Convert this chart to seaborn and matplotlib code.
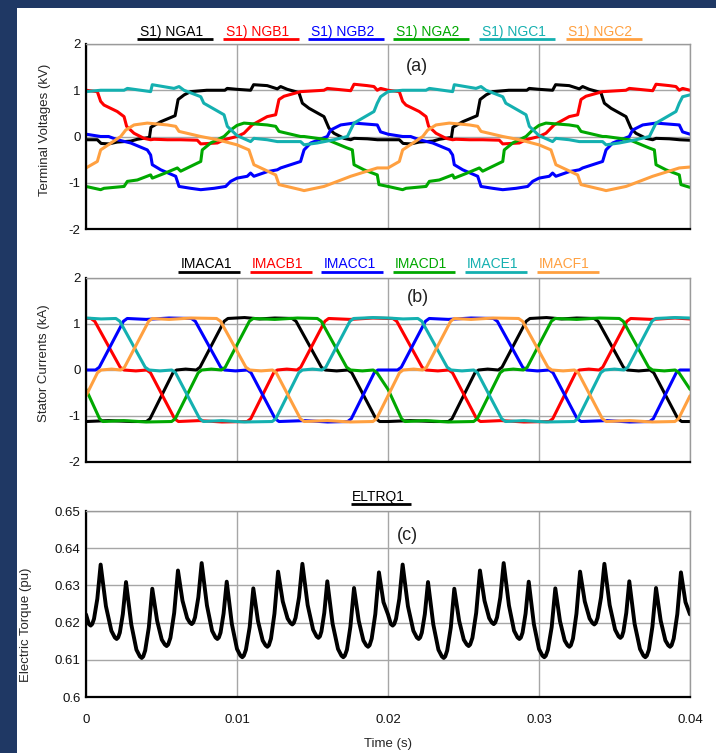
import matplotlib
matplotlib.use("Agg")
import matplotlib.pyplot as plt
from matplotlib.lines import Line2D
from matplotlib.patches import Rectangle
import pandas as pd
import seaborn as sns

sns.set_style("white")
plt.rcParams['font.family'] = ['Liberation Sans', 'DejaVu Sans']
plt.rcParams['axes.unicode_minus'] = False

# ---------------- data (time in ms) ----------------
volt_names = ["S1) NGA1", "S1) NGB1", "S1) NGB2", "S1) NGA2", "S1) NGC1", "S1) NGC2"]
curr_names = ["IMACA1", "IMACB1", "IMACC1", "IMACD1", "IMACE1", "IMACF1"]
torque_name = "ELTRQ1"
colors = ["#000000", "#FF0000", "#0000FF", "#00A800", "#14B0B0", "#FFA040"]

nga1 = [(0,-0.07),(0.75,-0.07),(1.0,-0.15),(1.5,-0.16),(2.07,-0.12),(2.96,-0.1),(3.4,-0.06),(4.2,-0.02),(4.3,0.2),(4.95,0.32),(5.9,0.45),(6.1,0.8),(6.5,0.9),(6.93,0.97),(8.0,1.0),(9.2,1.0),(9.35,1.04),(10.0,1.02),(10.9,1.0),(11.1,1.12),(12.0,1.1),(12.67,1.03),(12.89,1.08),(13.33,1.02),(14.1,0.95),(14.33,0.72),(14.77,0.61),(15.76,0.43),(16.09,0.18),(16.42,0.07),(17.09,-0.04),(17.53,-0.07),(17.75,-0.04),(18.63,-0.05),(19.3,-0.07),
        (20.0,-0.07),(20.75,-0.07),(21.0,-0.15),(21.5,-0.16),(22.07,-0.12),(22.96,-0.1),(23.4,-0.06),(24.2,-0.02),(24.3,0.2),(24.95,0.32),(25.9,0.45),(26.1,0.8),(26.5,0.9),(26.93,0.97),(28.0,1.0),(29.2,1.0),(29.35,1.04),(30.0,1.02),(30.9,1.0),(31.1,1.12),(32.0,1.1),(32.67,1.03),(32.89,1.08),(33.33,1.02),(34.1,0.95),(34.33,0.72),(34.77,0.61),(35.76,0.43),(36.09,0.18),(36.42,0.07),(37.09,-0.04),(37.53,-0.07),(37.75,-0.04),(38.63,-0.05),(39.3,-0.07),(40.0,-0.08)]
ngb1 = [(0,1.0),(0.75,0.97),(0.97,0.76),(1.19,0.68),(2.07,0.54),(2.52,0.43),(2.69,0.22),(3.18,0.07),(3.84,-0.04),(4.28,-0.07),(4.5,-0.06),(5.39,-0.07),(6.27,-0.07),(7.37,-0.08),(7.6,-0.16),(8.7,-0.14),(9.14,-0.07),(10.0,0.0),(10.46,0.07),(11.0,0.25),(12.0,0.43),(12.56,0.47),(12.78,0.8),(13.11,0.87),(14.21,0.97),(15.76,1.0),(15.98,1.04),(17.53,0.99),(17.75,1.13),(18.63,1.1),(19.07,1.08),(19.29,1.0),(19.51,1.04),
        (20.0,1.0),(20.75,0.97),(20.97,0.76),(21.19,0.68),(22.07,0.54),(22.52,0.43),(22.69,0.22),(23.18,0.07),(23.84,-0.04),(24.28,-0.07),(24.5,-0.06),(25.39,-0.07),(26.27,-0.07),(27.37,-0.08),(27.6,-0.16),(28.7,-0.14),(29.14,-0.07),(30.0,0.0),(30.46,0.07),(31.0,0.25),(32.0,0.43),(32.56,0.47),(32.78,0.8),(33.11,0.87),(34.21,0.97),(35.76,1.0),(35.98,1.04),(37.53,0.99),(37.75,1.13),(38.63,1.1),(39.07,1.08),(39.29,1.0),(39.51,1.04),(40.0,1.0)]
ngb2 = [(0,0.05),(0.97,0.0),(1.5,0.0),(2.07,-0.07),(2.96,-0.14),(4.06,-0.29),(4.28,-0.4),(4.39,-0.61),(4.95,-0.72),(5.94,-0.86),(6.16,-1.08),(6.93,-1.12),(7.6,-1.15),(8.48,-1.12),(9.25,-1.08),(9.58,-0.97),(10.0,-0.9),(10.68,-0.86),(10.9,-0.79),(11.12,-0.86),(12.0,-0.76),(12.67,-0.72),(12.89,-0.68),(14.21,-0.54),(14.44,-0.29),(14.88,-0.14),(15.98,0.0),(16.2,0.14),(16.87,0.25),(17.75,0.29),(19.29,0.25),(19.51,0.1),
        (20.0,0.05),(20.97,0.0),(21.5,0.0),(22.07,-0.07),(22.96,-0.14),(24.06,-0.29),(24.28,-0.4),(24.39,-0.61),(24.95,-0.72),(25.94,-0.86),(26.16,-1.08),(26.93,-1.12),(27.6,-1.15),(28.48,-1.12),(29.25,-1.08),(29.58,-0.97),(30.0,-0.9),(30.68,-0.86),(30.9,-0.79),(31.12,-0.86),(32.0,-0.76),(32.67,-0.72),(32.89,-0.68),(34.21,-0.54),(34.44,-0.29),(34.88,-0.14),(35.98,0.0),(36.2,0.14),(36.87,0.25),(37.75,0.29),(39.29,0.25),(39.51,0.1),(40.0,0.05)]
nga2 = [(0,-1.08),(0.97,-1.15),(1.19,-1.12),(2.52,-1.08),(2.74,-0.97),(3.4,-0.94),(4.28,-0.83),(4.39,-0.9),(5.17,-0.8),(6.05,-0.68),(6.27,-0.75),(7.6,-0.54),(7.7,-0.29),(8.26,-0.14),(9.14,0.0),(9.58,0.14),(10.0,0.24),(10.46,0.29),(12.0,0.25),(12.56,0.22),(12.78,0.11),(14.21,0.0),(14.44,0.0),(15.98,-0.07),(17.31,-0.25),(17.64,-0.29),(17.75,-0.61),(18.41,-0.72),(19.29,-0.83),(19.4,-1.04),
        (20.0,-1.08),(20.97,-1.15),(21.19,-1.12),(22.52,-1.08),(22.74,-0.97),(23.4,-0.94),(24.28,-0.83),(24.39,-0.9),(25.17,-0.8),(26.05,-0.68),(26.27,-0.75),(27.6,-0.54),(27.7,-0.29),(28.26,-0.14),(29.14,0.0),(29.58,0.14),(30.0,0.24),(30.46,0.29),(32.0,0.25),(32.56,0.22),(32.78,0.11),(34.21,0.0),(34.44,0.0),(35.98,-0.07),(37.31,-0.25),(37.64,-0.29),(37.75,-0.61),(38.41,-0.72),(39.29,-0.83),(39.4,-1.04),(40.0,-1.1)]
ngc1 = [(0,0.97),(0.97,1.0),(2.52,1.0),(2.74,1.04),(4.28,0.97),(4.39,1.12),(5.83,1.04),(6.16,1.08),(6.49,1.0),(7.6,0.86),(7.8,0.72),(9.14,0.47),(9.36,0.22),(10.0,0.02),(10.9,-0.11),(11.12,-0.04),(12.0,-0.07),(12.67,-0.11),(14.21,-0.11),(14.44,-0.18),(15.32,-0.14),(16.42,-0.07),(17.31,0.0),(17.75,0.29),(19.07,0.54),(19.29,0.72),(19.51,0.86),
        (20.0,0.97),(20.97,1.0),(22.52,1.0),(22.74,1.04),(24.28,0.97),(24.39,1.12),(25.83,1.04),(26.16,1.08),(26.49,1.0),(27.6,0.86),(27.8,0.72),(29.14,0.47),(29.36,0.22),(30.0,0.02),(30.9,-0.11),(31.12,-0.04),(32.0,-0.07),(32.67,-0.11),(34.21,-0.11),(34.44,-0.18),(35.32,-0.14),(36.42,-0.07),(37.31,0.0),(37.75,0.29),(39.07,0.54),(39.29,0.72),(39.51,0.86),(40.0,0.9)]
ngc2 = [(0,-0.68),(0.75,-0.54),(0.97,-0.29),(2.3,0.0),(2.63,0.14),(3.18,0.25),(4.06,0.29),(5.39,0.25),(5.94,0.22),(6.16,0.11),(7.6,0.0),(8.7,-0.07),(10.0,-0.18),(10.79,-0.29),(11.12,-0.61),(12.56,-0.83),(12.78,-1.04),(14.21,-1.15),(14.44,-1.17),(15.76,-1.08),(16.09,-1.04),(17.53,-0.86),(19.29,-0.68),
        (20.0,-0.68),(20.75,-0.54),(20.97,-0.29),(22.3,0.0),(22.63,0.14),(23.18,0.25),(24.06,0.29),(25.39,0.25),(25.94,0.22),(26.16,0.11),(27.6,0.0),(28.7,-0.07),(30.0,-0.18),(30.79,-0.29),(31.12,-0.61),(32.56,-0.83),(32.78,-1.04),(34.21,-1.15),(34.44,-1.17),(35.76,-1.08),(36.09,-1.04),(37.53,-0.86),(39.29,-0.68),(40.0,-0.66)]

imaca1 = [(0,-1.12),(1.5,-1.1),(3.0,-1.12),(4.0,-1.12),(4.24,-1.06),(5.0,-0.56),(5.76,-0.06),(6.0,0.0),(6.6,0.02),(7.3,0.0),(7.55,0.06),(8.35,0.56),(9.15,1.06),(9.4,1.12),(10.5,1.14),(11.5,1.11),(12.5,1.13),(13.65,1.12),(13.91,1.06),(14.75,0.56),(15.59,0.06),(15.85,0.0),(16.6,-0.02),(17.35,0.0),(17.6,-0.06),(18.4,-0.56),(19.2,-1.06),(19.45,-1.12),
          (20.0,-1.12),(21.5,-1.1),(23.0,-1.12),(24.0,-1.12),(24.24,-1.06),(25.0,-0.56),(25.76,-0.06),(26.0,0.0),(26.6,0.02),(27.3,0.0),(27.55,0.06),(28.35,0.56),(29.15,1.06),(29.4,1.12),(30.5,1.14),(31.5,1.11),(32.5,1.13),(33.65,1.12),(33.91,1.06),(34.75,0.56),(35.59,0.06),(35.85,0.0),(36.6,-0.02),(37.35,0.0),(37.6,-0.06),(38.4,-0.56),(39.2,-1.06),(39.45,-1.12),(40.0,-1.12)]
imacb1 = [(0,1.12),(0.32,1.12),(0.58,1.06),(1.42,0.56),(2.26,0.06),(2.52,0.0),(3.3,-0.02),(4.02,0.0),(4.27,-0.06),(5.07,-0.56),(5.87,-1.06),(6.12,-1.12),(7.5,-1.1),(9.0,-1.13),(10.67,-1.12),(10.91,-1.06),(11.67,-0.56),(12.43,-0.06),(12.67,0.0),(13.3,0.02),(13.97,0.0),(14.22,0.06),(15.02,0.56),(15.82,1.06),(16.07,1.12),(17.5,1.1),(19.0,1.13),
          (20.0,1.12),(20.32,1.12),(20.58,1.06),(21.42,0.56),(22.26,0.06),(22.52,0.0),(23.3,-0.02),(24.02,0.0),(24.27,-0.06),(25.07,-0.56),(25.87,-1.06),(26.12,-1.12),(27.5,-1.1),(29.0,-1.13),(30.67,-1.12),(30.91,-1.06),(31.67,-0.56),(32.43,-0.06),(32.67,0.0),(33.3,0.02),(33.97,0.0),(34.22,0.06),(35.02,0.56),(35.82,1.06),(36.07,1.12),(37.5,1.1),(39.0,1.13),(40.0,1.11)]
imacc1 = [(0,0.0),(0.63,0.0),(0.88,0.06),(1.68,0.56),(2.48,1.06),(2.73,1.12),(4.0,1.1),(5.5,1.13),(6.98,1.12),(7.24,1.06),(8.08,0.56),(8.92,0.06),(9.18,0.0),(9.9,-0.02),(10.68,0.0),(10.93,-0.06),(11.73,-0.56),(12.53,-1.06),(12.78,-1.12),(14.5,-1.1),(16.0,-1.13),(17.33,-1.12),(17.57,-1.06),(18.33,-0.56),(19.09,-0.06),(19.33,0.0),
          (20.0,0.0),(20.63,0.0),(20.88,0.06),(21.68,0.56),(22.48,1.06),(22.73,1.12),(24.0,1.1),(25.5,1.13),(26.98,1.12),(27.24,1.06),(28.08,0.56),(28.92,0.06),(29.18,0.0),(29.9,-0.02),(30.68,0.0),(30.93,-0.06),(31.73,-0.56),(32.53,-1.06),(32.78,-1.12),(34.5,-1.1),(36.0,-1.13),(37.33,-1.12),(37.57,-1.06),(38.33,-0.56),(39.09,-0.06),(39.33,0.0),(40.0,0.0)]
imacd1 = [(0,-0.42),(0.2,-0.56),(0.9,-1.06),(1.12,-1.12),(2.5,-1.1),(4.0,-1.13),(5.67,-1.12),(5.91,-1.06),(6.67,-0.56),(7.43,-0.06),(7.67,0.0),(8.3,0.02),(8.97,0.0),(9.22,0.06),(10.02,0.56),(10.82,1.06),(11.07,1.12),(12.5,1.1),(14.0,1.13),(15.32,1.12),(15.58,1.06),(16.42,0.56),(17.26,0.06),(17.52,0.0),(18.3,-0.02),(19.02,0.0),(19.27,-0.06),
          (20.0,-0.42),(20.2,-0.56),(20.9,-1.06),(21.12,-1.12),(22.5,-1.1),(24.0,-1.13),(25.67,-1.12),(25.91,-1.06),(26.67,-0.56),(27.43,-0.06),(27.67,0.0),(28.3,0.02),(28.97,0.0),(29.22,0.06),(30.02,0.56),(30.82,1.06),(31.07,1.12),(32.5,1.1),(34.0,1.13),(35.32,1.12),(35.58,1.06),(36.42,0.56),(37.26,0.06),(37.52,0.0),(38.3,-0.02),(39.02,0.0),(39.27,-0.06),(40.0,-0.42)]
imace1 = [(0,1.13),(1.0,1.11),(1.98,1.12),(2.24,1.06),(3.08,0.56),(3.92,0.06),(4.18,0.0),(4.9,-0.02),(5.68,0.0),(5.93,-0.06),(6.73,-0.56),(7.53,-1.06),(7.78,-1.12),(9.0,-1.1),(10.5,-1.13),(12.33,-1.12),(12.57,-1.06),(13.33,-0.56),(14.09,-0.06),(14.33,0.0),(15.0,0.02),(15.63,0.0),(15.88,0.06),(16.68,0.56),(17.48,1.06),(17.73,1.12),(19.0,1.14),
          (20.0,1.13),(21.0,1.11),(21.98,1.12),(22.24,1.06),(23.08,0.56),(23.92,0.06),(24.18,0.0),(24.9,-0.02),(25.68,0.0),(25.93,-0.06),(26.73,-0.56),(27.53,-1.06),(27.78,-1.12),(29.0,-1.1),(30.5,-1.13),(32.33,-1.12),(32.57,-1.06),(33.33,-0.56),(34.09,-0.06),(34.33,0.0),(35.0,0.02),(35.63,0.0),(35.88,0.06),(36.68,0.56),(37.48,1.06),(37.73,1.12),(39.0,1.14),(40.0,1.13)]
imacf1 = [(0,-0.56),(0.76,-0.06),(1.0,0.0),(1.7,0.02),(2.3,0.0),(2.55,0.06),(3.35,0.56),(4.15,1.06),(4.4,1.12),(5.5,1.1),(7.0,1.13),(8.65,1.12),(8.91,1.06),(9.75,0.56),(10.59,0.06),(10.85,0.0),(11.6,-0.02),(12.35,0.0),(12.6,-0.06),(13.4,-0.56),(14.2,-1.06),(14.45,-1.12),(16.0,-1.1),(17.5,-1.13),(19.0,-1.12),(19.24,-1.06),
          (20.0,-0.56),(20.76,-0.06),(21.0,0.0),(21.7,0.02),(22.3,0.0),(22.55,0.06),(23.35,0.56),(24.15,1.06),(24.4,1.12),(25.5,1.1),(27.0,1.13),(28.65,1.12),(28.91,1.06),(29.75,0.56),(30.59,0.06),(30.85,0.0),(31.6,-0.02),(32.35,0.0),(32.6,-0.06),(33.4,-0.56),(34.2,-1.06),(34.45,-1.12),(36.0,-1.1),(37.5,-1.13),(39.0,-1.12),(39.24,-1.06),(40.0,-0.56)]

eltrq1 = [(0,0.6222),(0.19,0.6196),(0.31,0.6192),(0.41,0.6196),(0.53,0.6210),(0.75,0.6264),(0.97,0.6356),(1.32,0.6244),(1.68,0.6178),(1.91,0.6160),(2.03,0.6156),(2.13,0.6160),(2.24,0.6173),(2.44,0.6223),(2.65,0.6309),(3.0,0.6195),(3.34,0.6127),(3.57,0.6109),(3.69,0.6105),(3.79,0.6109),(3.92,0.6125),(4.16,0.6187),(4.39,0.6291),(4.71,0.6205),(5.02,0.6154),(5.22,0.6141),(5.34,0.6137),(5.44,0.6141),(5.59,0.6159),(5.84,0.6226),(6.09,0.6340),(6.39,0.6259),(6.70,0.6212),(6.88,0.6200),(7.00,0.6196),(7.10,0.6200),(7.22,0.6214),(7.44,0.6268),(7.66,0.6360),(8.01,0.6246),(8.35,0.6178),(8.58,0.6160),(8.70,0.6156),(8.80,0.6160),(8.91,0.6173),(9.11,0.6224),(9.32,0.6310),(9.66,0.6196),(10.0,0.6129),(10.23,0.6111),(10.35,0.6107),(10.45,0.6111),(10.59,0.6127),(10.84,0.6188),(11.08,0.6292),(11.39,0.6204),(11.70,0.6152),(11.89,0.6139),(12.01,0.6135),(12.11,0.6139),(12.25,0.6157),(12.48,0.6224),(12.72,0.6337),(13.03,0.6257),(13.35,0.6211),(13.54,0.6199),(13.66,0.6195),(13.76,0.6199),(13.88,0.6213),(14.11,0.6268),(14.33,0.6358),(14.68,0.6247),(15.04,0.6181),(15.27,0.6163),(15.39,0.6159),(15.49,0.6163),(15.59,0.6176),(15.78,0.6226),(15.98,0.6311),(16.33,0.6197),(16.69,0.6129),(16.92,0.6111),(17.04,0.6107),(17.14,0.6111),(17.28,0.6127),(17.51,0.6189),(17.75,0.6293),(18.06,0.6205),(18.37,0.6152),(18.56,0.6139),(18.68,0.6135),(18.78,0.6139),(18.92,0.6157),(19.16,0.6223),(19.40,0.6335),(19.70,0.6255),
          (20.0,0.6222),(20.19,0.6196),(20.31,0.6192),(20.41,0.6196),(20.53,0.6210),(20.75,0.6264),(20.97,0.6356),(21.32,0.6244),(21.68,0.6178),(21.91,0.6160),(22.03,0.6156),(22.13,0.6160),(22.24,0.6173),(22.44,0.6223),(22.65,0.6309),(23.0,0.6195),(23.34,0.6127),(23.57,0.6109),(23.69,0.6105),(23.79,0.6109),(23.92,0.6125),(24.16,0.6187),(24.39,0.6291),(24.71,0.6205),(25.02,0.6154),(25.22,0.6141),(25.34,0.6137),(25.44,0.6141),(25.59,0.6159),(25.84,0.6226),(26.09,0.6340),(26.39,0.6259),(26.70,0.6212),(26.88,0.6200),(27.00,0.6196),(27.10,0.6200),(27.22,0.6214),(27.44,0.6268),(27.66,0.6360),(28.01,0.6246),(28.35,0.6178),(28.58,0.6160),(28.70,0.6156),(28.80,0.6160),(28.91,0.6173),(29.11,0.6224),(29.32,0.6310),(29.66,0.6196),(30.0,0.6129),(30.23,0.6111),(30.35,0.6107),(30.45,0.6111),(30.59,0.6127),(30.84,0.6188),(31.08,0.6292),(31.39,0.6204),(31.70,0.6152),(31.89,0.6139),(32.01,0.6135),(32.11,0.6139),(32.25,0.6157),(32.48,0.6224),(32.72,0.6337),(33.03,0.6257),(33.35,0.6211),(33.54,0.6199),(33.66,0.6195),(33.76,0.6199),(33.88,0.6213),(34.11,0.6268),(34.33,0.6358),(34.68,0.6247),(35.04,0.6181),(35.27,0.6163),(35.39,0.6159),(35.49,0.6163),(35.59,0.6176),(35.78,0.6226),(35.98,0.6311),(36.33,0.6197),(36.69,0.6129),(36.92,0.6111),(37.04,0.6107),(37.14,0.6111),(37.28,0.6127),(37.51,0.6189),(37.75,0.6293),(38.06,0.6205),(38.37,0.6152),(38.56,0.6139),(38.68,0.6135),(38.78,0.6139),(38.92,0.6157),(39.16,0.6223),(39.40,0.6335),(39.70,0.6255),(40.0,0.6222)]

x_ticks = [0, 0.01, 0.02, 0.03, 0.04]
x_tick_labels = ["0", "0.01", "0.02", "0.03", "0.04"]
y_ticks_ab = [-2, -1, 0, 1, 2]
y_ticks_c = [0.6, 0.61, 0.62, 0.63, 0.64, 0.65]
y_tick_labels_c = ["0.6", "0.61", "0.62", "0.63", "0.64", "0.65"]


def frame(series, names):
    rows = []
    for name, pts in zip(names, series):
        for t, v in pts:
            rows.append((t / 1000.0, v, name))
    return pd.DataFrame(rows, columns=["t", "v", "s"])


df_v = frame([nga1, ngb1, ngb2, nga2, ngc1, ngc2], volt_names)
df_i = frame([imaca1, imacb1, imacc1, imacd1, imace1, imacf1], curr_names)
df_t = frame([eltrq1], [torque_name])

# ---------------- figure ----------------
W, H = 716, 753
fig = plt.figure(figsize=(W / 100, H / 100), dpi=100)
fig.patch.set_facecolor("#1F3864")
fig.add_artist(Rectangle((17 / W, 0), 1 - 17 / W, 1 - 8 / H, transform=fig.transFigure,
                         facecolor="white", edgecolor="none", zorder=-5))

L, R = 86, 690


def make_ax(top, bottom):
    return fig.add_axes([L / W, 1 - bottom / H, (R - L) / W, (bottom - top) / H])


ax1 = make_ax(44, 229)
ax2 = make_ax(278, 462)
ax3 = make_ax(511, 697)

FS = 9.5
line_kw = dict(estimator=None, sort=False, legend=False, solid_joinstyle="round")

sns.lineplot(data=df_v, x="t", y="v", hue="s", hue_order=volt_names,
             palette=dict(zip(volt_names, colors)), linewidth=2.2, ax=ax1, **line_kw)
sns.lineplot(data=df_i, x="t", y="v", hue="s", hue_order=curr_names,
             palette=dict(zip(curr_names, colors)), linewidth=2.2, ax=ax2, **line_kw)
sns.lineplot(data=df_t, x="t", y="v", hue="s", palette={torque_name: "#000000"},
             linewidth=2.8, ax=ax3, **line_kw)


def style(ax, yticks, ylim, ylabels=None, show_x=False):
    ax.set_xlim(0, 0.04)
    ax.set_ylim(*ylim)
    ax.set_xticks(x_ticks)
    ax.set_yticks(yticks)
    if ylabels is not None:
        ax.set_yticklabels(ylabels)
    if show_x:
        ax.set_xticklabels(x_tick_labels)
    ax.tick_params(axis="x", labelbottom=show_x, length=0, pad=12, labelsize=FS, colors="#111111")
    ax.tick_params(axis="y", length=0, pad=4, labelsize=FS, colors="#111111")
    ax.grid(True, color="#a6a6a6", linewidth=1.0)
    ax.set_axisbelow(True)
    ax.set_xlabel("")
    ax.set_ylabel("")
    for s in ["top", "right"]:
        ax.spines[s].set_color("#9a9a9a")
        ax.spines[s].set_linewidth(1.0)
    for s in ["left", "bottom"]:
        ax.spines[s].set_color("#000000")
        ax.spines[s].set_linewidth(1.6)


style(ax1, y_ticks_ab, (-2, 2))
style(ax2, y_ticks_ab, (-2, 2))
style(ax3, y_ticks_c, (0.6, 0.65), y_tick_labels_c, show_x=True)

ax1.text(0.0219, 1.52, "(a)", fontsize=13, ha="center", va="center", color="#222222")
ax2.text(0.0220, 1.57, "(b)", fontsize=13, ha="center", va="center", color="#222222")
ax3.text(0.0213, 0.6435, "(c)", fontsize=13, ha="center", va="center", color="#222222")

# y labels and x label
fig.text(45 / W, 1 - 129.5 / H, "Terminal Voltages (kV)", rotation=90, ha="center", va="center", fontsize=FS)
fig.text(44 / W, 1 - 363.5 / H, "Stator Currents (kA)", rotation=90, ha="center", va="center", fontsize=FS)
fig.text(26.5 / W, 1 - 624.5 / H, "Electric Torque (pu)", rotation=90, ha="center", va="center", fontsize=FS)
fig.text(388 / W, 1 - 744 / H, "Time (s)", ha="center", va="center", fontsize=FS)


# legend-like headers with coloured underlines
def header(names, cols, centers, y_base, y_line, ul_len):
    for n, c, cx in zip(names, cols, centers):
        fig.text((cx - 3) / W, 1 - y_base / H, n, color=c, ha="center", va="baseline", fontsize=10)
        fig.add_artist(Line2D([(cx - ul_len / 2) / W, (cx + ul_len / 2) / W], [1 - y_line / H] * 2,
                              color=c, linewidth=2.0, solid_capstyle="butt", transform=fig.transFigure))


header(volt_names, colors, [175, 261, 345.5, 430.5, 517, 603.5], 36, 39.3, 76)
header(curr_names, colors, [209, 280.7, 352.4, 424.1, 495.8, 567.5], 268, 271.5, 62)
header([torque_name], ["#000000"], [381], 501, 504, 60)

fig.savefig("out.png", dpi=100)
